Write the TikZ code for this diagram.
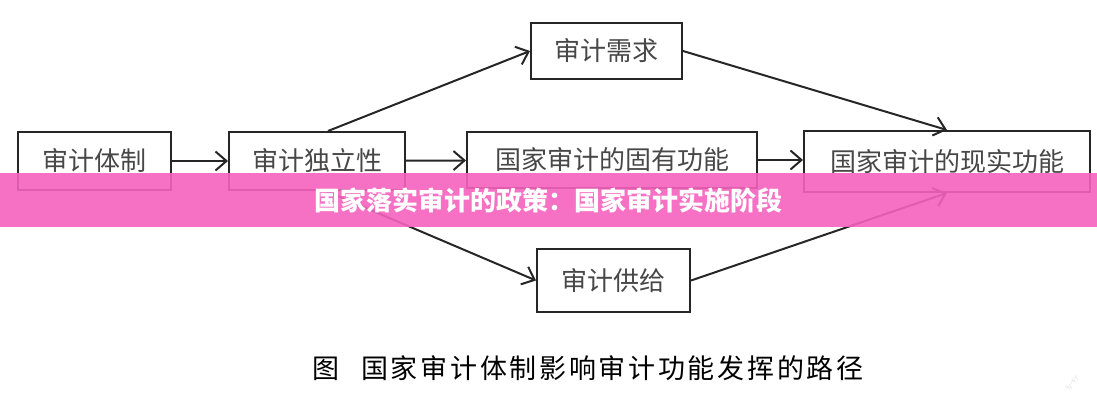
\documentclass[tikz,border=0pt]{standalone}
\usepackage{fontspec}
\newfontfamily\cjk{Noto Sans CJK SC}
\newfontfamily\capfont{Noto Sans CJK SC}[LetterSpace=10]
\usetikzlibrary{arrows.meta}
\definecolor{banner}{RGB}{245,98,190}
\definecolor{ink}{RGB}{38,38,38}
\tikzset{
  box/.style={draw=ink, line width=2pt, inner sep=0pt, text=ink!85,
    font=\cjk\fontsize{26}{28}\selectfont},
  arr/.style={draw=ink, line width=2pt, -{Straight Barb[length=11pt,width=19pt]}},
}
\begin{document}
\begin{tikzpicture}[x=1pt,y=1pt]
\useasboundingbox (0,0) rectangle (1097,400);
\node[box,minimum width=153pt,minimum height=58pt] (system) at (94.5,239) {审计体制};
\node[box,minimum width=176pt,minimum height=58pt] (indep) at (317,239) {审计独立性};
\node[box,minimum width=290pt,minimum height=56pt] (inherent) at (612,240) {国家审计的固有功能};
\node[box,minimum width=286pt,minimum height=61pt] (real) at (947,238.5) {国家审计的现实功能};
\node[box,minimum width=151pt,minimum height=56pt] (demand) at (606.5,349) {审计需求};
\node[box,minimum width=153pt,minimum height=63pt] (supply) at (613.5,119.5) {审计供给};
\draw[arr] (system) -- (indep);
\draw[arr] (indep) -- (inherent);
\draw[arr] (inherent.east) -- (inherent.east -| real.west);
\draw[arr] ([xshift=11pt]indep.north) -- (demand.west);
\draw[arr] ([xshift=9pt]indep.south) -- (supply.west);
\draw[arr] (demand.east) -- (real.north);
\draw[arr] (supply.east) -- (real.south);
% caption under the figure
\node[font=\capfont\fontsize{27}{30}\selectfont] (caption) at (588,32) {图\hspace{0.8em}国家审计体制影响审计功能发挥的路径};
\node[text=black!12, rotate=55, font=\sffamily\fontsize{8}{9}\selectfont] (mark) at (1072,17) {ly-sy};
% banner laid over the figure
\fill[banner, opacity=0.9] (0,173) rectangle (1097,227);
\node[text=white, font=\cjk\bfseries\fontsize{26}{28}\selectfont] (title) at (548,200) {国家落实审计的政策：国家审计实施阶段};
\end{tikzpicture}
\end{document}
